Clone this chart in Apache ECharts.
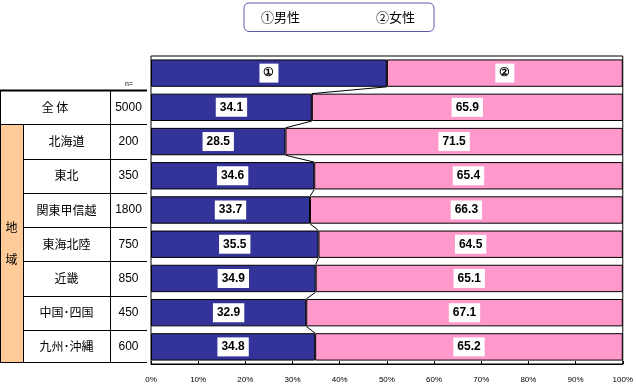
<!DOCTYPE html>
<html>
<head>
<meta charset="utf-8">
<script src="https://cdn.jsdelivr.net/npm/echarts@6/dist/echarts.min.js"></script>
<style>html,body{margin:0;padding:0;background:#fff;}#c{width:636px;height:385px;}</style>
</head>
<body>
<div id="c"></div>
<script>
const seriesNames = ['男性', '女性'];
const keyLabels = ['①', '②'];
const keyRow = [50, 50];
const regions = ['全 体', '北海道', '東北', '関東甲信越', '東海北陸', '近畿', '中国･四国', '九州･沖縄'];
const sampleSizes = [5000, 200, 350, 1800, 750, 850, 450, 600];
const male = [34.1, 28.5, 34.6, 33.7, 35.5, 34.9, 32.9, 34.8];
const female = [65.9, 71.5, 65.4, 66.3, 64.5, 65.1, 67.1, 65.2];
const groupLabel = ['地', '域'];
const nLabel = 'n=';
const xMin = 0, xMax = 100, xStep = 10;

const cats = ['key'].concat(regions);
const maleData = [keyRow[0]].concat(male);
const femaleData = [keyRow[1]].concat(female);
const lineData = [];
for (let i = 0; i < maleData.length - 1; i++) lineData.push([maleData[i], i, maleData[i + 1], i + 1]);

const chart = echarts.init(document.getElementById('c'), null, {renderer: 'canvas'});
const labelStyle = {
  show: true, position: 'inside', color: '#000', fontWeight: 'bold', fontSize: 12,
  fontFamily: 'Liberation Sans, Arial, sans-serif', backgroundColor: '#fff', padding: [4, 4, 3, 4]
};
const option = {
  animation: false,
  backgroundColor: '#fff',
  legend: {
    left: 244, top: 3, padding: [7, 19, 8, 12], itemGap: 71, itemWidth: 0, itemHeight: 14, icon: 'none',
    borderColor: '#5a5aae', borderWidth: 1, borderRadius: 5,
    textStyle: {fontSize: 13, color: '#000', fontFamily: 'Noto Sans CJK JP', padding: 0},
    formatter: n => keyLabels[seriesNames.indexOf(n)] + n,
    data: seriesNames
  },
  grid: {left: 151, right: 12, top: 56, bottom: 21, show: true, borderColor: '#000', borderWidth: 1},
  xAxis: {
    type: 'value', min: xMin, max: xMax, interval: xStep,
    axisLine: {show: true, lineStyle: {color: '#000'}},
    axisTick: {show: true, inside: true, length: 3, lineStyle: {color: '#000'}},
    splitLine: {show: false},
    axisLabel: {formatter: '{value}%', fontSize: 8, color: '#000', margin: 12, fontFamily: 'Liberation Sans, Arial'}
  },
  yAxis: {
    type: 'category', inverse: true, data: cats,
    axisLine: {show: false}, axisTick: {show: false}, axisLabel: {show: false}, splitLine: {show: false}
  },
  series: [
    {
      name: seriesNames[0], type: 'bar', stack: 's', data: maleData, barCategoryGap: '20%',
      itemStyle: {color: '#333399', borderColor: '#000', borderWidth: 1},
      label: Object.assign({}, labelStyle, {formatter: p => p.dataIndex === 0 ? keyLabels[0] : p.value.toFixed(1)})
    },
    {
      name: seriesNames[1], type: 'bar', stack: 's', data: femaleData, barCategoryGap: '20%',
      itemStyle: {color: '#FF99CC', borderColor: '#000', borderWidth: 1},
      label: Object.assign({}, labelStyle, {formatter: p => p.dataIndex === 0 ? keyLabels[1] : p.value.toFixed(1)})
    },
    {
      type: 'custom', data: lineData, z: 5, silent: true, encode: {x: [0, 2], y: [1, 3]},
      renderItem: function (params, api) {
        const p1 = api.coord([api.value(0), api.value(1)]);
        const p2 = api.coord([api.value(2), api.value(3)]);
        const half = api.size([0, 1])[1] * 0.4;
        return {
          type: 'line',
          shape: {x1: p1[0], y1: p1[1] + half, x2: p2[0], y2: p2[1] - half},
          style: {stroke: '#000', lineWidth: 1}
        };
      }
    }
  ]
};
chart.setOption(option);

// table on the left, aligned to the category bands
const yc = i => chart.convertToPixel({yAxisIndex: 0}, i);
const band = yc(1) - yc(0);
const rowTop = r => yc(r + 1) - band / 2;
const tableTop = Math.round(rowTop(0)) + 0.5;
const tableBottom = Math.round(rowTop(regions.length)) - 1.5;
const colA = 23.5, colB = 110.5, colR = 147;
const g = [];
g.push({type: 'rect', shape: {x: 0, y: Math.round(rowTop(1)), width: 23, height: tableBottom - Math.round(rowTop(1))}, style: {fill: '#FFCC99'}});
g.push({type: 'line', shape: {x1: 0, y1: tableTop, x2: colR, y2: tableTop}, style: {stroke: '#000', lineWidth: 2}});
for (let r = 1; r < regions.length; r++) {
  const y = Math.round(rowTop(r)) + 0.5;
  g.push({type: 'line', shape: {x1: r === 1 ? 0 : colA, y1: y, x2: colR, y2: y}, style: {stroke: '#000', lineWidth: 1}});
}
g.push({type: 'line', shape: {x1: 0, y1: tableBottom, x2: colR, y2: tableBottom}, style: {stroke: '#000', lineWidth: 1}});
g.push({type: 'line', shape: {x1: 0.5, y1: tableTop, x2: 0.5, y2: tableBottom}, style: {stroke: '#000', lineWidth: 1}});
g.push({type: 'line', shape: {x1: colA, y1: Math.round(rowTop(1)), x2: colA, y2: tableBottom}, style: {stroke: '#000', lineWidth: 1}});
g.push({type: 'line', shape: {x1: colB, y1: tableTop, x2: colB, y2: tableBottom}, style: {stroke: '#000', lineWidth: 1}});
regions.forEach((name, r) => {
  const cy = yc(r + 1);
  g.push({type: 'text', x: r === 0 ? 55 : 66.5, y: cy, style: {text: name, fill: '#000', font: '12px "Noto Sans CJK JP"', textAlign: 'center', textVerticalAlign: 'middle'}});
  g.push({type: 'text', x: 128.5, y: cy, style: {text: String(sampleSizes[r]), fill: '#000', font: '12px "Liberation Sans", Arial', textAlign: 'center', textVerticalAlign: 'middle'}});
});
const groupMid = (rowTop(1) + tableBottom) / 2;
g.push({type: 'text', x: 11.5, y: groupMid - 16, style: {text: groupLabel[0], fill: '#000', font: '12px "Noto Sans CJK JP"', textAlign: 'center', textVerticalAlign: 'middle'}});
g.push({type: 'text', x: 11.5, y: groupMid + 16, style: {text: groupLabel[1], fill: '#000', font: '12px "Noto Sans CJK JP"', textAlign: 'center', textVerticalAlign: 'middle'}});
g.push({type: 'text', x: 129, y: tableTop - 6, style: {text: nLabel, fill: '#000', font: '7px "Liberation Sans", Arial', textAlign: 'center', textVerticalAlign: 'middle'}});
chart.setOption({graphic: {elements: g}});
</script>
</body>
</html>
